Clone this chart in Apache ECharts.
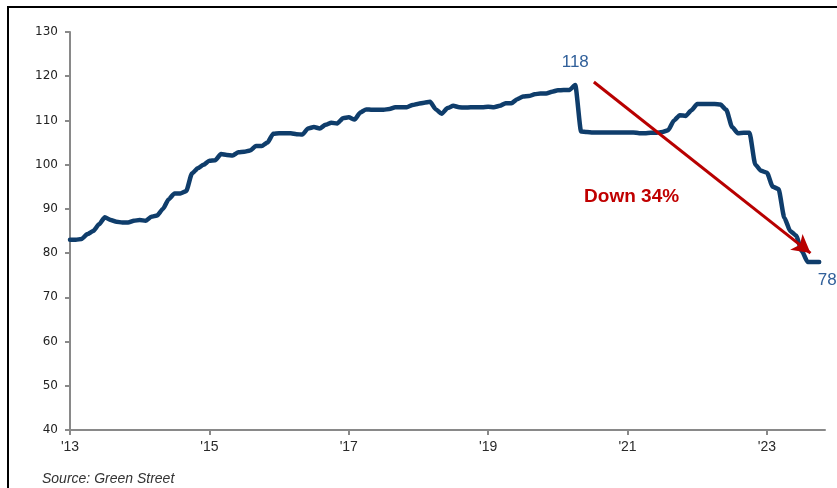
<!DOCTYPE html>
<html>
<head>
<meta charset="utf-8">
<script src="https://cdn.jsdelivr.net/npm/echarts@6/dist/echarts.min.js"></script>
<style>
html,body{margin:0;padding:0;background:#fff;}
#c{width:837px;height:488px;}
</style>
</head>
<body>
<div id="c"></div>
<script>
// Monthly index, Jan 2013 .. Oct 2023
const startYear = 2013;
const months = [];
for (let i = 0; i < 130; i++) {
  const y = startYear + Math.floor(i / 12), m = (i % 12) + 1;
  months.push(y + '-' + String(m).padStart(2, '0'));
}
const values = [
  83.0, 83.0, 83.2, 84.3, 85.0, 86.5, 88.1, 87.5, 87.1, 86.9, 86.9, 87.3,
  87.5, 87.3, 88.2, 88.5, 90.0, 92.2, 93.5, 93.5, 94.0, 98.0, 99.2, 100.0,
  100.9, 101.0, 102.4, 102.2, 102.1, 102.8, 102.9, 103.2, 104.2, 104.2, 105.0, 107.0,
  107.1, 107.1, 107.1, 106.9, 106.8, 108.2, 108.5, 108.2, 109.0, 109.5, 109.3, 110.5,
  110.7, 110.2, 111.8, 112.5, 112.4, 112.4, 112.4, 112.6, 113.0, 113.0, 113.0, 113.5,
  113.8, 114.0, 114.2, 112.5, 111.5, 112.8, 113.3, 113.0, 112.9, 113.0, 113.0, 113.0,
  113.1, 113.0, 113.3, 113.9, 113.9, 114.8, 115.4, 115.5, 115.9, 116.1, 116.1, 116.5,
  116.8, 116.9, 116.9, 118.0, 107.5, 107.4, 107.3, 107.3, 107.3, 107.3, 107.3, 107.3,
  107.3, 107.3, 107.1, 107.1, 107.2, 107.2, 107.4, 107.8, 110.0, 111.2, 111.0, 112.3,
  113.7, 113.7, 113.7, 113.7, 113.6, 112.4, 108.5, 107.1, 107.2, 107.2, 100.0, 98.6,
  98.2, 95.0, 94.5, 88.0, 85.0, 84.0, 80.5, 78.0, 78.0, 78.0
];
const yTicks = [40, 50, 60, 70, 80, 90, 100, 110, 120, 130];
const xTickLabels = ["'13", "'15", "'17", "'19", "'21", "'23"];
const xTickPos = xTickLabels.map((_, i) => i * 24);

const peakIdx = values.indexOf(Math.max(...values));
const lastIdx = values.length - 1;
const pctDown = Math.round((1 - values[lastIdx] / values[peakIdx]) * 100);

const chart = echarts.init(document.getElementById('c'));
const axisColor = '#898989';
chart.setOption({
  animation: false,
  backgroundColor: '#fff',
  grid: { left: 70, right: 12, top: 32, bottom: 58 },
  xAxis: {
    type: 'value', min: 0, max: 130, interval: 24,
    axisLine: { show: true, lineStyle: { color: axisColor, width: 2 } },
    axisTick: { show: true, length: 5, customValues: xTickPos, lineStyle: { color: axisColor, width: 2 } },
    splitLine: { show: false },
    axisLabel: {
      margin: 10, color: '#2a2a2a', fontFamily: 'Liberation Sans Narrow, Liberation Sans', fontSize: 14,
      customValues: xTickPos,
      formatter: v => xTickLabels[v / 24] || ''
    }
  },
  yAxis: {
    type: 'value', min: yTicks[0], max: yTicks[yTicks.length - 1], interval: 10,
    axisLine: { show: true, lineStyle: { color: axisColor, width: 2 } },
    axisTick: { show: true, length: 5, lineStyle: { color: axisColor, width: 2 } },
    splitLine: { show: false },
    axisLabel: { margin: 12, color: '#222', fontFamily: 'DejaVu Sans', fontSize: 12 }
  },
  series: [{
    type: 'line',
    data: values.map((v, i) => [i, v]),
    showSymbol: false,
    smooth: 0.2,
    smoothMonotone: 'x',
    lineStyle: { color: '#0f3d6b', width: 4.5, cap: 'round', join: 'round' },
    markPoint: {
      symbol: 'circle', symbolSize: 0, silent: true,
      data: [
        { coord: [peakIdx, values[peakIdx]], label: { show: true, formatter: String(Math.round(values[peakIdx])), offset: [0, -23], color: '#31609a', fontSize: 17, fontFamily: 'Liberation Sans' } },
        { coord: [lastIdx, values[lastIdx]], label: { show: true, formatter: String(Math.round(values[lastIdx])), offset: [8, 18], color: '#31609a', fontSize: 17, fontFamily: 'Liberation Sans' } },
        { coord: [96.7, 92.7], label: { show: true, formatter: 'Down ' + pctDown + '%', color: '#c00000', fontSize: 19, fontWeight: 'bold', fontFamily: 'Liberation Sans' } }
      ]
    },
    markLine: {
      silent: true,
      symbol: ['none', 'arrow'],
      symbolSize: [15, 18],
      label: { show: false },
      lineStyle: { color: '#b80000', width: 3, type: 'solid' },
      data: [[{ coord: [90.2, 118.7] }, { coord: [127.5, 80.0] }]]
    }
  }],
  graphic: [
    { type: 'rect', shape: { x: 8, y: 7, width: 900, height: 600 }, style: { fill: 'none', stroke: '#000', lineWidth: 2 }, silent: true },
    { type: 'text', left: 42, top: 472, style: { text: 'Source: Green Street', font: 'italic 14px "Liberation Sans Narrow", "Liberation Sans"', fill: '#333' } }
  ]
});
</script>
</body>
</html>
